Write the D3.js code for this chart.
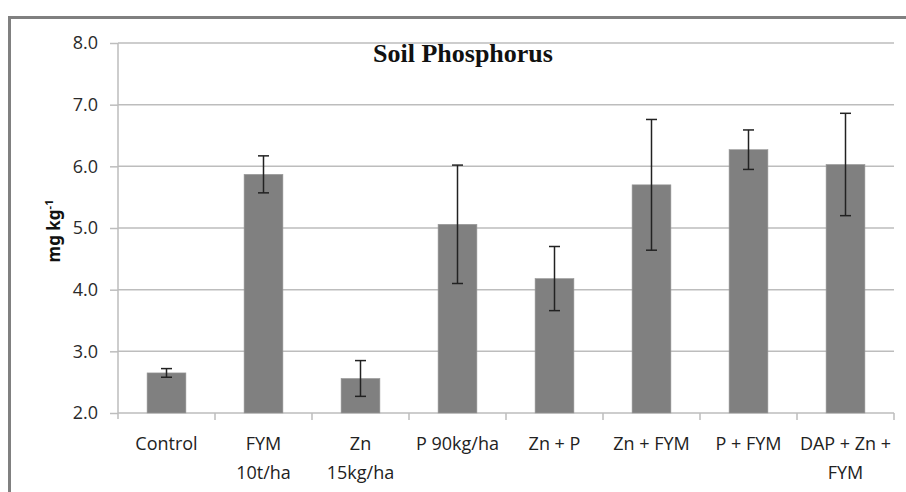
<!DOCTYPE html>
<html><head><meta charset="utf-8">
<script src="https://cdn.jsdelivr.net/npm/d3@7/dist/d3.min.js"></script>
<style>body{margin:0;background:#fff;}svg{display:block;}</style>
</head><body>
<svg id="chart" width="906" height="492"></svg>
<script>
const categories = ["Control", "FYM 10t/ha", "Zn 15kg/ha", "P 90kg/ha", "Zn + P", "Zn + FYM", "P + FYM", "DAP + Zn + FYM"];
const categoryLines = [["Control"], ["FYM", "10t/ha"], ["Zn", "15kg/ha"], ["P 90kg/ha"], ["Zn + P"], ["Zn + FYM"], ["P + FYM"], ["DAP + Zn +", "FYM"]];
const values = [2.65, 5.87, 2.56, 5.06, 4.18, 5.70, 6.27, 6.03];
const errors = [0.07, 0.30, 0.29, 0.96, 0.52, 1.06, 0.32, 0.83];
const yTicks = [2, 3, 4, 5, 6, 7, 8];
const title = "Soil Phosphorus";

const svg = d3.select("#chart");
const m = {left: 118, right: 894, top: 43, bottom: 413};

// outer frame
svg.append("path").attr("d", "M9.5,492 L9.5,17.5 L906,17.5")
  .attr("fill", "none").attr("stroke", "#808080").attr("stroke-width", 3);

const x = d3.scaleBand().domain(categories).range([m.left, m.right]).paddingInner(0.6).paddingOuter(0.3);
const y = d3.scaleLinear().domain([2, 8]).range([m.bottom, m.top]);

// gridlines
svg.append("g").selectAll("line").data(yTicks.slice(1)).join("line")
  .attr("x1", m.left).attr("x2", m.right)
  .attr("y1", d => y(d)).attr("y2", d => y(d))
  .attr("stroke", "#bdbdbd").attr("stroke-width", 1.5);

// y axis
const yAxis = d3.axisLeft(y).tickValues(yTicks).tickFormat(d3.format(".1f")).tickSize(8).tickPadding(12);
const gy = svg.append("g").attr("transform", `translate(${m.left},0)`).call(yAxis);
gy.select(".domain").attr("stroke", "#bdbdbd").attr("stroke-width", 1.5).attr("d", `M0,${m.top}V${m.bottom + 6}`);
gy.selectAll(".tick line").attr("stroke", "#bdbdbd").attr("stroke-width", 1.5);
gy.selectAll(".tick text").attr("font-family", "'Open Sans', sans-serif").attr("font-size", 18).attr("fill", "#2a2a2a");

// x axis line and boundary ticks
svg.append("line").attr("x1", m.left).attr("x2", m.right).attr("y1", m.bottom).attr("y2", m.bottom)
  .attr("stroke", "#bdbdbd").attr("stroke-width", 1.5);
const step = x.step();
const bounds = d3.range(1, categories.length + 1).map(i => x(categories[0]) - x.paddingOuter() * step + i * step);
svg.append("g").selectAll("line").data(bounds).join("line")
  .attr("x1", d => d).attr("x2", d => d).attr("y1", m.bottom).attr("y2", m.bottom + 7)
  .attr("stroke", "#bdbdbd").attr("stroke-width", 1.5);

// bars
svg.append("g").selectAll("rect").data(values).join("rect")
  .attr("x", (d, i) => x(categories[i]))
  .attr("y", d => y(d))
  .attr("width", x.bandwidth())
  .attr("height", d => y(2) - y(d))
  .attr("fill", "#808080").attr("stroke", "#999").attr("stroke-width", 0.6);

// error bars
const eg = svg.append("g").attr("stroke", "#222").attr("stroke-width", 1.5);
values.forEach((v, i) => {
  const cx = x(categories[i]) + x.bandwidth() / 2;
  const hi = y(v + errors[i]), lo = y(v - errors[i]);
  eg.append("line").attr("x1", cx).attr("x2", cx).attr("y1", hi).attr("y2", lo);
  eg.append("line").attr("x1", cx - 5.5).attr("x2", cx + 5.5).attr("y1", hi).attr("y2", hi);
  eg.append("line").attr("x1", cx - 5.5).attr("x2", cx + 5.5).attr("y1", lo).attr("y2", lo);
});

// x labels
const xl = svg.append("g").attr("font-family", "'Open Sans', sans-serif").attr("font-size", 18).attr("fill", "#222").attr("text-anchor", "middle");
categoryLines.forEach((lines, i) => {
  const cx = x(categories[i]) + x.bandwidth() / 2;
  lines.forEach((t, j) => {
    xl.append("text").attr("x", cx).attr("y", 450 + j * 29).text(t);
  });
});

// title
svg.append("text").attr("x", 463).attr("y", 62).attr("text-anchor", "middle")
  .attr("font-family", "'Liberation Serif', 'Times New Roman', serif").attr("font-weight", "bold")
  .attr("font-size", 26).attr("fill", "#111").text(title);

// y label
const yl = svg.append("text").attr("transform", "translate(60,231) rotate(-90)").attr("text-anchor", "middle")
  .attr("font-family", "'Noto Sans', 'DejaVu Sans', sans-serif").attr("font-weight", "bold").attr("font-size", 17).attr("fill", "#111");
yl.append("tspan").text("mg kg");
yl.append("tspan").attr("font-size", 11).attr("dy", -7).text("-1");
</script>
</body></html>
